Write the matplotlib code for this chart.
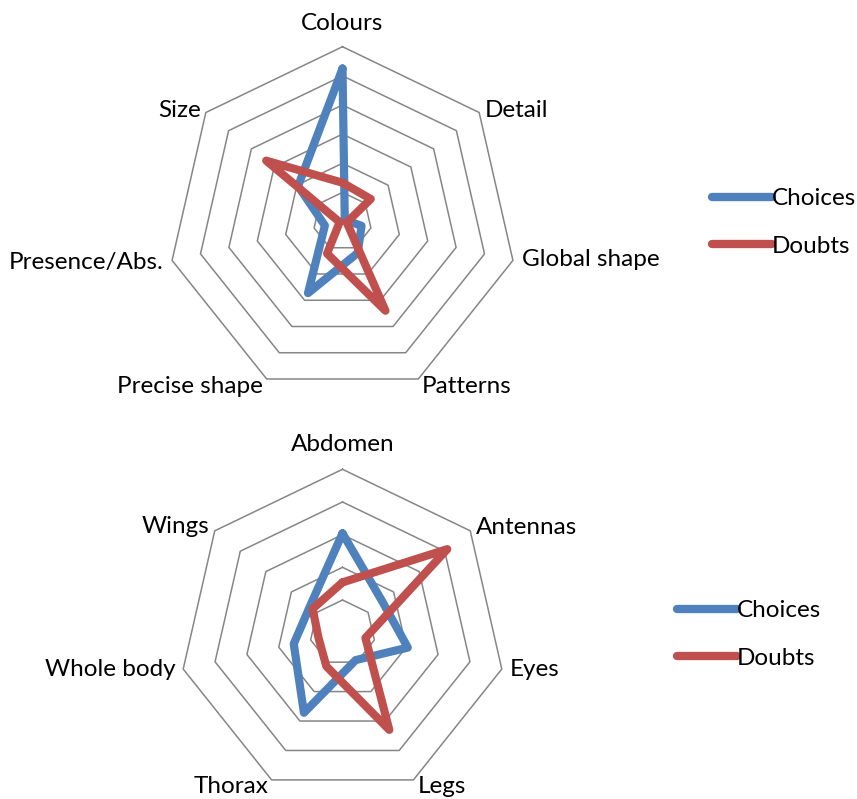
import numpy as np
import matplotlib.pyplot as plt
from matplotlib.lines import Line2D

plt.rcParams['font.family'] = ['Lato', 'DejaVu Sans']

# top chart: what drove the choices / doubts
cats_top = ['Colours', 'Detail', 'Global shape', 'Patterns',
            'Precise shape', 'Presence/Abs.', 'Size']
choices_top = [5.25, 0.1, 0.67, 1.2, 2.73, 0.62, 1.95]
doubts_top = [1.33, 1.24, 0.15, 3.4, 1.22, 0.1, 3.35]
rings_top = [1, 2, 3, 4, 5, 6]

# bottom chart: body parts
cats_bot = ['Abdomen', 'Antennas', 'Eyes', 'Legs', 'Thorax',
            'Whole body', 'Wings']
choices_bot = [3.04, 1.55, 2.05, 0.93, 2.72, 1.53, 1.28]
doubts_bot = [1.54, 4.1, 0.72, 3.3, 1.14, 0.75, 1.17]
rings_bot = [1, 2, 3, 4, 5]

series_names = ['Choices', 'Doubts']
BLUE = '#4F81BD'
RED = '#C0504D'
GRID = '#868686'
FS = 17.5

# label offsets (pixels) from the outer vertex: dx, dy, ha
offs_top = [(0, 17, 'center'), (6, -4, 'left'), (9, -6, 'left'), (3, -14, 'left'),
            (-4, -14, 'right'), (-9, -9, 'right'), (-5, -4, 'right')]
offs_bot = [(0, 18, 'center'), (6, -3, 'left'), (8, -7, 'left'), (4, -13, 'left'),
            (-3, -13, 'right'), (-8, -7, 'right'), (-5, -2, 'right')]


def radar(ax, cats, s1, s2, rings, offs):
    n = len(cats)
    ang = np.linspace(0, 2 * np.pi, n, endpoint=False)
    ang_c = np.append(ang, ang[0])
    ax.set_theta_zero_location('N')
    ax.set_theta_direction(-1)
    for v in rings:
        ax.plot(ang_c, [v] * (n + 1), color=GRID, lw=1.1, clip_on=False, zorder=1)
    for vals, col in [(s1, BLUE), (s2, RED)]:
        ax.plot(ang_c, list(vals) + [vals[0]], color=col, lw=5.9,
                solid_joinstyle='round', solid_capstyle='round', zorder=3)
    ax.set_ylim(0, rings[-1])
    ax.set_xticks([])
    ax.set_yticks([])
    ax.grid(False)
    ax.spines['polar'].set_visible(False)
    ax.patch.set_visible(False)
    for a, lab, (dx, dy, ha) in zip(ang, cats, offs):
        ax.annotate(lab, xy=(a, rings[-1]), xytext=(dx, dy),
                    textcoords='offset pixels', ha=ha, va='baseline',
                    fontsize=FS, color='black', annotation_clip=False)


fig = plt.figure(figsize=(8.57, 7.99), dpi=100)
ax1 = fig.add_axes([167.7 / 857, 402.7 / 799, 349.6 / 857, 349.6 / 799], projection='polar')
ax2 = fig.add_axes([179.1 / 857, 2.9 / 799, 326.8 / 857, 326.8 / 799], projection='polar')

radar(ax1, cats_top, choices_top, doubts_top, rings_top, offs_top)
radar(ax2, cats_bot, choices_bot, doubts_bot, rings_bot, offs_bot)

handles = [Line2D([], [], color=BLUE, lw=6, solid_capstyle='round'),
           Line2D([], [], color=RED, lw=6, solid_capstyle='round')]
for x0, yc in [(712 / 857, 1 - 222.5 / 799), (677 / 857, 1 - 634.5 / 799)]:
    fig.legend(handles, series_names, loc='center left', bbox_to_anchor=(x0, yc),
               frameon=False, fontsize=FS, handlelength=2.45, handletextpad=0.02,
               labelspacing=1.08, borderpad=0, borderaxespad=0)

fig.savefig('out.png', dpi=100)
